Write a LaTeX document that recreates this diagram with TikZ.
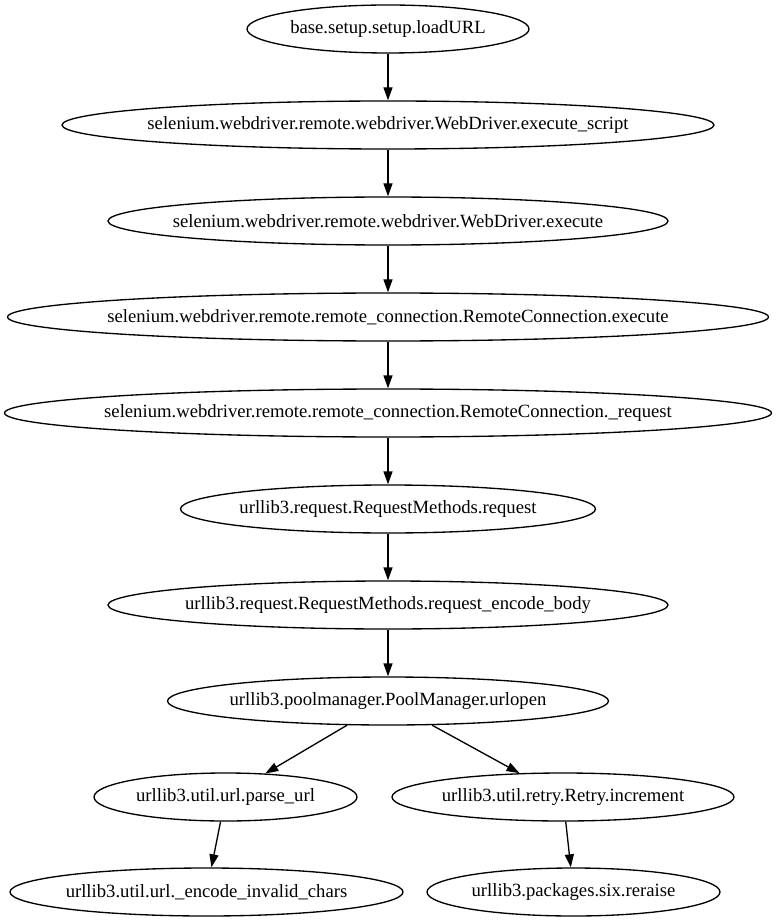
\documentclass[tikz,border=0pt]{standalone}
\usepackage{fontspec}
\setmainfont{Liberation Serif}
\usetikzlibrary{shapes.geometric,arrows.meta}
\newcommand{\fnlbl}[1]{\raisebox{-1.2pt}{\makebox[0pt]{#1}}}
\begin{document}
\begin{tikzpicture}[x=0.75pt,y=-0.75pt,
  fn/.style={ellipse, draw, line width=1pt, inner sep=0pt, minimum height=36pt,
    minimum width=#1*1.5pt, font=\fontsize{14}{16}\selectfont},
  call/.style={-{Triangle[length=9.75pt,width=6.75pt]}, line width=1pt}]
\fill[white] (0,0) rectangle (777,923);
\useasboundingbox (0,0) rectangle (777,923);

\node[fn=141]   (n1)  at (388,29)    {\fnlbl{base.setup.setup.loadURL}};
\node[fn=326]   (n2)  at (388,125)   {\fnlbl{selenium.webdriver.remote.webdriver.WebDriver.execute\_script}};
\node[fn=280]   (n3)  at (388,221)   {\fnlbl{selenium.webdriver.remote.webdriver.WebDriver.execute}};
\node[fn=380.5] (n4)  at (388,317)   {\fnlbl{selenium.webdriver.remote.remote\_connection.RemoteConnection.execute}};
\node[fn=383.5] (n5)  at (388,413)   {\fnlbl{selenium.webdriver.remote.remote\_connection.RemoteConnection.\_request}};
\node[fn=207.5] (n6)  at (388,509)   {\fnlbl{urllib3.request.RequestMethods.request}};
\node[fn=280]   (n7)  at (388,605)   {\fnlbl{urllib3.request.RequestMethods.request\_encode\_body}};
\node[fn=220.5] (n8)  at (388,701)   {\fnlbl{urllib3.poolmanager.PoolManager.urlopen}};
\node[fn=131.5] (n9)  at (225.5,797) {\fnlbl{urllib3.util.url.parse\_url}};
\node[fn=171]   (n10) at (563,797)   {\fnlbl{urllib3.util.retry.Retry.increment}};
\node[fn=196.5] (n11) at (206.5,892) {\fnlbl{urllib3.util.url.\_encode\_invalid\_chars}};
\node[fn=146.5] (n12) at (573.5,892) {\fnlbl{urllib3.packages.six.reraise}};

\draw[call] (n1) -- (n2);
\draw[call] (n2) -- (n3);
\draw[call] (n3) -- (n4);
\draw[call] (n4) -- (n5);
\draw[call] (n5) -- (n6);
\draw[call] (n6) -- (n7);
\draw[call] (n7) -- (n8);
\draw[call] (n8) -- (n9);
\draw[call] (n8) -- (n10);
\draw[call] (n9) -- (n11);
\draw[call] (n10) -- (n12);
\end{tikzpicture}
\end{document}
